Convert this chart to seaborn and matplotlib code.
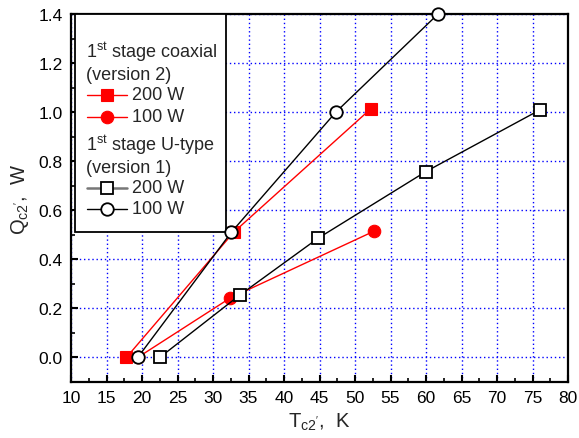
import numpy as np
import pandas as pd
import matplotlib
matplotlib.use("Agg")
import matplotlib.pyplot as plt
import seaborn as sns
from matplotlib.lines import Line2D
from matplotlib.patches import Rectangle
from matplotlib.ticker import MultipleLocator

# ---- data ----
coax200_T = [17.8, 32.9, 52.2]
coax200_Q = [0.0, 0.51, 1.013]
coax100_T = [19.4, 32.4, 52.7]
coax100_Q = [0.0, 0.242, 0.515]
utype200_T = [22.5, 33.8, 44.8, 60.0, 76.1]
utype200_Q = [0.0, 0.255, 0.486, 0.758, 1.01]
utype100_T = [19.4, 32.6, 47.3, 61.7]
utype100_Q = [0.0, 0.511, 1.0, 1.4]

x_ticks = [10, 15, 20, 25, 30, 35, 40, 45, 50, 55, 60, 65, 70, 75, 80]
y_ticks = [0.0, 0.2, 0.4, 0.6, 0.8, 1.0, 1.2, 1.4]
y_tick_labels = ["0.0", "0.2", "0.4", "0.6", "0.8", "1.0", "1.2", "1.4"]

group_titles = ["1$^{\\mathregular{st}}$ stage coaxial\n(version 2)",
                "1$^{\\mathregular{st}}$ stage U-type\n(version 1)"]
series_labels = ["200 W", "100 W", "200 W", "100 W"]
x_label = "T$_{\\mathregular{c2'}}$,  K"
y_label = "Q$_{\\mathregular{c2'}}$,  W"

sns.set_style("ticks")
plt.rcParams["font.family"] = ["Liberation Sans", "DejaVu Sans"]
plt.rcParams["mathtext.fontset"] = "custom"
plt.rcParams["mathtext.rm"] = "Liberation Sans"
plt.rcParams["mathtext.it"] = "Liberation Sans"
plt.rcParams["mathtext.bf"] = "Liberation Sans:bold"

W, H = 579, 439
fig = plt.figure(figsize=(W / 100, H / 100), dpi=100)
L, R, T, B = 71, 568, 15, 383
ax = fig.add_axes([L / W, 1 - B / H, (R - L) / W, (B - T) / H])

def px(xp):
    return (xp - L) / (R - L)

def py(yp):
    return (B - yp) / (B - T)

frames = [
    (coax200_T, coax200_Q, dict(color="red", lw=1.0, marker="s", ms=8,
                                mfc="red", mec="red", mew=0.8)),
    (coax100_T, coax100_Q, dict(color="red", lw=1.0, marker="o", ms=9,
                                mfc="red", mec="red", mew=0.8)),
    (utype200_T, utype200_Q, dict(color="black", lw=1.0, marker="s", ms=8.3,
                                  mfc="white", mec="black", mew=1.3)),
    (utype100_T, utype100_Q, dict(color="black", lw=1.0, marker="o", ms=9,
                                  mfc="white", mec="black", mew=1.3)),
]
for i, (xs, ys, kw) in enumerate(frames):
    df = pd.DataFrame({"T": xs, "Q": ys})
    sns.lineplot(data=df, x="T", y="Q", ax=ax, sort=False, estimator=None,
                 clip_on=False, zorder=4 + i, **kw)

ax.set_xlim(10, 80)
ax.set_ylim(-0.1, 1.4)
ax.set_xticks(x_ticks)
ax.set_xticklabels([str(v) for v in x_ticks])
ax.set_yticks(y_ticks)
ax.set_yticklabels(y_tick_labels)
ax.xaxis.set_minor_locator(MultipleLocator(2.5))
ax.yaxis.set_minor_locator(MultipleLocator(0.1))
ax.tick_params(which="both", direction="in", top=False, right=False,
               labelsize=12.5, colors="black")
ax.tick_params(which="major", length=5, width=1.5, pad=6)
ax.tick_params(which="minor", length=3, width=1.2)
ax.grid(True, which="major", color="blue", linestyle=(0, (1, 2)), linewidth=1.0)
for s in ax.spines.values():
    s.set_linewidth(1.6)
    s.set_color("black")
ax.set_xlabel(x_label, fontsize=14.5, labelpad=4)
ax.set_ylabel(y_label, fontsize=14.5, labelpad=5)

# ---- manual legend ----
ax.add_patch(Rectangle((px(75), py(233)), px(226) - px(75), py(15) - py(233),
                       transform=ax.transAxes, facecolor="white",
                       edgecolor="black", lw=1.3, zorder=3))
fs = 13
ax.text(px(86), py(62.5), group_titles[0], transform=ax.transAxes, fontsize=fs,
        va="center", ha="left", linespacing=1.2, zorder=3.5)
ax.text(px(86), py(155.5), group_titles[1], transform=ax.transAxes, fontsize=fs,
        va="center", ha="left", linespacing=1.2, zorder=3.5)
rows_y = [96, 117.5, 188.5, 210]
handle_line_colors = ["red", "red", "#777777", "black"]
handle_lw = [1.0, 1.0, 1.8, 1.0]
for (xs, ys, kw), yrow, lab, lc, lw in zip(frames, rows_y, series_labels,
                                         handle_line_colors, handle_lw):
    ax.add_line(Line2D([px(86.5), px(126.5)], [py(yrow), py(yrow)],
                       transform=ax.transAxes, color=lc, lw=lw, zorder=3.5))
    ax.add_line(Line2D([px(106.5)], [py(yrow)], transform=ax.transAxes,
                       marker=kw["marker"], ms=kw["ms"], mfc=kw["mfc"],
                       mec=kw["mec"], mew=kw["mew"], lw=0, zorder=3.6))
    ax.text(px(132), py(yrow), lab, transform=ax.transAxes, fontsize=fs,
            va="center", ha="left", zorder=3.5)

fig.savefig("out.png", dpi=100)
